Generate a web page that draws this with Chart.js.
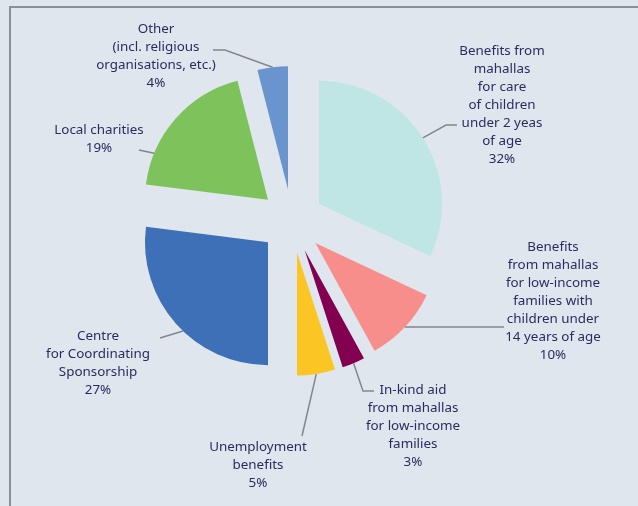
<!DOCTYPE html>
<html>
<head>
<meta charset="utf-8">
<script src="https://cdn.jsdelivr.net/npm/chart.js@4/dist/chart.umd.min.js"></script>
<style>
  html, body { margin: 0; padding: 0; background: #dfe6ee; }
  #wrap { position: relative; width: 638px; height: 506px; }
  #frame { position: absolute; left: 9px; top: 6px; right: 0; bottom: 0;
           border-left: 2px solid #8e8f93; border-top: 2px solid #8e8f93; }
  canvas { position: absolute; left: 0; top: 0; }
</style>
</head>
<body>
<div id="wrap">
  <div id="frame"></div>
  <canvas id="chart" width="638" height="506"></canvas>
</div>
<script>
// Sources of support, share of total (%)
const categories = [
  ['Benefits from', 'mahallas', 'for care', 'of children', 'under 2 yeas', 'of age'],
  ['Benefits', 'from mahallas', 'for low-income', 'families with', 'children under', '14 years of age'],
  ['In-kind aid', 'from mahallas', 'for low-income', 'families'],
  ['Unemployment', 'benefits'],
  ['Centre', 'for Coordinating', 'Sponsorship'],
  ['Local charities'],
  ['Other', '(incl. religious', 'organisations, etc.)']
];
const shares = [32, 10, 3, 5, 27, 19, 4];
const sliceColors = ['#bfe6e4', '#f78e8b', '#82004f', '#fbc523', '#3d70b6', '#7dc25a', '#6994cd'];

// Label placement: text block centre x, first line y, where the leader touches
// the slice (fraction of the slice angle) and the leader's bend points.
const labelLayout = [
  { x: 502, y: 51,  anchor: 0.5,  path: [[446, 125], [457, 125]] },
  { x: 553, y: 247, anchor: 0.5,  path: [[504, null]] },
  { x: 413, y: 390, anchor: 0.5,  path: [[363, 391], [374, 391]] },
  { x: 258, y: 447, anchor: 0.5,  path: [[302, 436]] },
  { x: 98,  y: 336, anchor: 0.45, path: [[160, 338]] },
  { x: 99,  y: 130, anchor: 0.22, path: [[139, 150]] },
  { x: 156, y: 29,  anchor: 0.5,  path: [[225, 50], [213, 50]] }
];

const EXPLODE = 32;      // distance each slice is pulled out from the centre
const LINE_H = 18;
const TEXT_COLOR = '#2b2c5e';

// Pull every slice outward along its mid angle.
const explodePlugin = {
  id: 'explode',
  afterDatasetUpdate(chart, args) {
    const meta = args.meta;
    meta.data.forEach(arc => {
      const mid = (arc.startAngle + arc.endAngle) / 2;
      arc.x += Math.cos(mid) * EXPLODE;
      arc.y += Math.sin(mid) * EXPLODE;
    });
  }
};

// Category labels with leader lines.
const labelPlugin = {
  id: 'sliceLabels',
  afterDatasetsDraw(chart) {
    const ctx = chart.ctx;
    const arcs = chart.getDatasetMeta(0).data;
    ctx.save();
    arcs.forEach((arc, i) => {
      const lay = labelLayout[i];
      const a = arc.startAngle + (arc.endAngle - arc.startAngle) * lay.anchor;
      const sx = arc.x + Math.cos(a) * arc.outerRadius;
      const sy = arc.y + Math.sin(a) * arc.outerRadius;
      ctx.beginPath();
      ctx.strokeStyle = '#85868a';
      ctx.lineWidth = 1.5;
      ctx.moveTo(sx, sy);
      let py = sy;
      lay.path.forEach(p => {
        const y = p[1] === null ? py : p[1];
        ctx.lineTo(p[0], y);
        py = y;
      });
      ctx.stroke();

      const lines = categories[i].concat([shares[i] + '%']);
      ctx.fillStyle = TEXT_COLOR;
      ctx.font = '13.4px "Noto Sans", "Open Sans", sans-serif';
      ctx.textAlign = 'center';
      ctx.textBaseline = 'middle';
      lines.forEach((t, k) => ctx.fillText(t, lay.x, lay.y + k * LINE_H));
    });
    ctx.restore();
  }
};

new Chart(document.getElementById('chart'), {
  type: 'pie',
  data: {
    labels: categories.map(c => c.join(' ')),
    datasets: [{
      data: shares,
      backgroundColor: sliceColors,
      borderWidth: 0,
      hoverOffset: 0
    }]
  },
  options: {
    responsive: false,
    animation: false,
    radius: 123,
    layout: { padding: { left: 20, right: 74, top: 20, bottom: 84 } },
    plugins: { legend: { display: false }, tooltip: { enabled: false } },
    events: []
  },
  plugins: [explodePlugin, labelPlugin]
});
</script>
</body>
</html>
